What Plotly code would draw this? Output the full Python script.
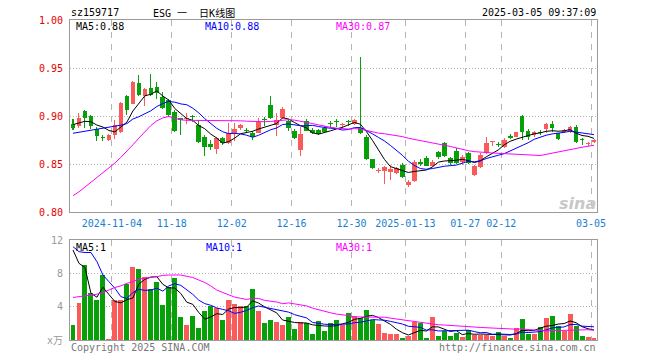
import plotly.graph_objects as go

# ---------------- data ----------------
dates = [
    "2024-10-24", "2024-10-25", "2024-10-28", "2024-10-29", "2024-10-30", "2024-10-31", "2024-11-01",
    "2024-11-04", "2024-11-05", "2024-11-06", "2024-11-07", "2024-11-08",
    "2024-11-11", "2024-11-12", "2024-11-13", "2024-11-14", "2024-11-15",
    "2024-11-18", "2024-11-19", "2024-11-20", "2024-11-21", "2024-11-22",
    "2024-11-25", "2024-11-26", "2024-11-27", "2024-11-28", "2024-11-29",
    "2024-12-02", "2024-12-03", "2024-12-04", "2024-12-05", "2024-12-06",
    "2024-12-09", "2024-12-10", "2024-12-11", "2024-12-12", "2024-12-13",
    "2024-12-16", "2024-12-17", "2024-12-18", "2024-12-19", "2024-12-20",
    "2024-12-23", "2024-12-24", "2024-12-25", "2024-12-26", "2024-12-27",
    "2024-12-30", "2024-12-31", "2025-01-02", "2025-01-03",
    "2025-01-06", "2025-01-07", "2025-01-08", "2025-01-09", "2025-01-10",
    "2025-01-13", "2025-01-14", "2025-01-15", "2025-01-16", "2025-01-17",
    "2025-01-20", "2025-01-21", "2025-01-22", "2025-01-23", "2025-01-24",
    "2025-01-27", "2025-02-05", "2025-02-06", "2025-02-07",
    "2025-02-10", "2025-02-11", "2025-02-12", "2025-02-13", "2025-02-14",
    "2025-02-17", "2025-02-18", "2025-02-19", "2025-02-20", "2025-02-21",
    "2025-02-24", "2025-02-25", "2025-02-26", "2025-02-27", "2025-02-28",
    "2025-03-03", "2025-03-04", "2025-03-05",
]

opens = [
    0.892, 0.890, 0.905, 0.900, 0.886, 0.8775, 0.875, 0.880, 0.883, 0.921,
    0.913, 0.934, 0.921, 0.929, 0.930, 0.920, 0.9167, 0.904, 0.8975, 0.8965,
    0.900, 0.8906, 0.878, 0.871, 0.8655, 0.8775, 0.872, 0.8826, 0.887, 0.8848,
    0.8826, 0.8826, 0.896, 0.9115, 0.8906, 0.8976, 0.8951, 0.8844, 0.8646, 0.8951,
    0.8854, 0.885, 0.888, 0.8921, 0.8945, 0.8903, 0.8945, 0.8917, 0.888, 0.8785,
    0.8549, 0.843, 0.843, 0.842, 0.841, 0.849, 0.828, 0.8323, 0.8524, 0.8566,
    0.848, 0.862, 0.8722, 0.856, 0.864, 0.8524, 0.8618, 0.8385, 0.8472, 0.861,
    0.8728, 0.8702, 0.868, 0.878, 0.8785, 0.900, 0.8847, 0.880, 0.8828, 0.886,
    0.8917, 0.882, 0.8837, 0.8847, 0.8885, 0.8752, 0.8713, 0.8730,
]
highs = [
    0.897, 0.903, 0.906, 0.901, 0.889, 0.880, 0.881, 0.896, 0.915, 0.922,
    0.936, 0.943, 0.929, 0.944, 0.935, 0.925, 0.918, 0.906, 0.898, 0.903,
    0.901, 0.896, 0.880, 0.875, 0.878, 0.878, 0.893, 0.893, 0.892, 0.887,
    0.884, 0.8976, 0.8985, 0.9212, 0.9028, 0.909, 0.897, 0.886, 0.8889, 0.8965,
    0.887, 0.886, 0.890, 0.8943, 0.897, 0.893, 0.896, 0.8965, 0.9618, 0.880,
    0.855, 0.846, 0.848, 0.849, 0.847, 0.8507, 0.8333, 0.8542, 0.855, 0.8583,
    0.8542, 0.8639, 0.8733, 0.8576, 0.8663, 0.8594, 0.8625, 0.849, 0.8611, 0.8778,
    0.8733, 0.8726, 0.8767, 0.8809, 0.8837, 0.901, 0.8861, 0.8847, 0.885, 0.8924,
    0.8951, 0.8827, 0.8861, 0.8896, 0.8906, 0.8767, 0.8733, 0.8757,
]
lows = [
    0.885, 0.887, 0.888, 0.886, 0.874, 0.874, 0.874, 0.876, 0.882, 0.901,
    0.912, 0.921, 0.910, 0.921, 0.918, 0.907, 0.899, 0.883, 0.880, 0.892,
    0.894, 0.872, 0.858, 0.865, 0.860, 0.870, 0.871, 0.874, 0.885, 0.882,
    0.875, 0.882, 0.890, 0.897, 0.879, 0.897, 0.884, 0.876, 0.8583, 0.884,
    0.881, 0.880, 0.883, 0.887, 0.889, 0.888, 0.890, 0.891, 0.881, 0.8545,
    0.845, 0.8405, 0.8288, 0.833, 0.840, 0.8358, 0.8265, 0.8316, 0.848, 0.8476,
    0.847, 0.855, 0.857, 0.849, 0.850, 0.849, 0.850, 0.8375, 0.8462, 0.8604,
    0.8688, 0.8674, 0.867, 0.8757, 0.878, 0.875, 0.875, 0.8785, 0.880, 0.8827,
    0.8837, 0.875, 0.882, 0.882, 0.8722, 0.8698, 0.8688, 0.8715,
]
closes = [
    0.887, 0.898, 0.898, 0.890, 0.8795, 0.877, 0.880, 0.891, 0.914, 0.906,
    0.935, 0.922, 0.928, 0.922, 0.924, 0.908, 0.901, 0.884, 0.896, 0.8975,
    0.899, 0.8733, 0.868, 0.868, 0.877, 0.872, 0.882, 0.886, 0.8906, 0.884,
    0.8778, 0.894, 0.8955, 0.8976, 0.8958, 0.9076, 0.888, 0.8767, 0.8812, 0.8844,
    0.882, 0.881, 0.8837, 0.8917, 0.8941, 0.8906, 0.8941, 0.8958, 0.8826, 0.8555,
    0.8455, 0.8435, 0.8472, 0.8448, 0.8455, 0.8368, 0.8316, 0.8524, 0.8497, 0.8483,
    0.8524, 0.8569, 0.8583, 0.851, 0.851, 0.8569, 0.8507, 0.848, 0.8594, 0.8722,
    0.8735, 0.8698, 0.875, 0.8776, 0.8837, 0.8837, 0.8785, 0.8837, 0.8824, 0.8917,
    0.887, 0.876, 0.8854, 0.889, 0.8733, 0.8748, 0.8717, 0.8745,
]
volumes = [  # x万
    1.8, 4.48, 9.0, 5.6, 4.8, 7.8, 0.1, 4.8, 4.8, 6.7,
    8.8, 8.5, 7.6, 6.1, 7.0, 4.2, 6.4, 7.5, 2.8, 1.8,
    2.9, 1.5, 3.5, 4.1, 3.8, 2.4, 4.8, 4.36, 4.1, 4.1,
    6.1, 3.5, 2.1, 2.4, 2.2, 1.8, 2.8, 1.3, 2.2, 2.1,
    0.7, 2.3, 1.1, 2.1, 2.4, 1.8, 3.2, 2.9, 2.7, 3.6,
    2.4, 1.9, 0.8, 0.7, 0.7, 0.3, 0.5, 2.2, 2.1, 0.3,
    2.76, 0.5, 1.05, 0.5, 0.8, 0.4, 1.15, 0.58, 0.65, 0.66,
    0.5, 1.0, 0.52, 0.3, 1.45, 2.55, 0.75, 0.75, 1.6, 2.65,
    2.9, 1.65, 1.05, 3.15, 1.65, 0.5, 0.4, 0.3,
]

# moving-average values before enough visible history exists
ma5_head = [0.891, 0.893, 0.8945, 0.894]
ma10_head = [0.882, 0.883, 0.884, 0.885, 0.886, 0.887, 0.888, 0.889, 0.8905]
ma30_head = [0.817, 0.821, 0.826, 0.831, 0.836, 0.841, 0.846, 0.851, 0.857, 0.863,
             0.870, 0.877, 0.884, 0.890, 0.895, 0.898, 0.8995, 0.898, 0.896, 0.8955,
             0.8955, 0.8955, 0.8955, 0.8955, 0.8955, 0.8955, 0.895, 0.895, 0.895]
vma5_head = [10.8, 9.2, 8.7, 5.6]
vma10_head = [11.2, 10.6, 10.5, 10.5, 9.4, 7.8, 7.0, 6.2, 5.2]
vma30_head = [5.1, 5.2, 5.3, 5.4, 5.5, 5.7, 6.0, 6.3, 6.5, 6.8,
              7.0, 7.3, 7.4, 7.55, 7.6, 7.75, 7.8, 7.8, 7.8, 7.65,
              7.5, 7.2, 6.9, 6.5, 6.0, 5.7, 5.4, 5.15, 5.0]

tick_dates = ["2024-11-04", "2024-11-18", "2024-12-02", "2024-12-16", "2024-12-30",
              "2025-01-13", "2025-01-27", "2025-02-12", "2025-03-05"]
tick_text = ["2024-11-04", "11-18", "12-02", "12-16", "12-30",
             "2025-01-13", "01-27", "02-12", "03-05"]
price_ticks = [0.80, 0.85, 0.90, 0.95, 1.00]
price_tick_text = ["0.80", "0.85", "0.90", "0.95", "1.00"]
vol_ticks = [0, 4, 8, 12]
vol_tick_text = ["x万", "4", "8", "12"]


def moving_avg(vals, n, head):
    out = []
    for i in range(len(vals)):
        if i < n - 1:
            out.append(head[i])
        else:
            out.append(sum(vals[i - n + 1:i + 1]) / n)
    return out


# ---------------- styling ----------------
RED = "#fa5a5a"
GREEN = "#08a008"
FONT = "DejaVu Sans Mono, Noto Sans CJK SC, monospace"
GRID = "#b4b4b4"
FRAME = "#9a9a9a"

n = len(dates)
xs = list(range(n))
up = [c >= o for o, c in zip(opens, closes)]
colors = [RED if u else GREEN for u in up]
body_base = [min(o, c) for o, c in zip(opens, closes)]
body_h = [max(abs(c - o), 0.0011) for o, c in zip(opens, closes)]
wick_h = [h - l for h, l in zip(highs, lows)]

fig = go.Figure()

# wicks
fig.add_trace(go.Bar(x=xs, y=wick_h, base=lows, width=0.17,
                     marker=dict(color=colors, line=dict(width=0)),
                     xaxis="x", yaxis="y", hoverinfo="skip"))
# bodies
fig.add_trace(go.Bar(x=xs, y=body_h, base=body_base, width=0.78,
                     marker=dict(color=colors, line=dict(width=0)),
                     xaxis="x", yaxis="y", hoverinfo="skip"))

ma_specs = [(5, ma5_head, "black"), (10, ma10_head, "#0000ff"), (30, ma30_head, "#ff00ff")]
for win, head, col in ma_specs:
    fig.add_trace(go.Scatter(x=xs, y=moving_avg(closes, win, head), mode="lines",
                             line=dict(color=col, width=1), xaxis="x", yaxis="y",
                             hoverinfo="skip"))

# volume
fig.add_trace(go.Bar(x=xs, y=volumes, width=0.83,
                     marker=dict(color=colors, line=dict(width=0)),
                     xaxis="x2", yaxis="y2", hoverinfo="skip"))
vma_specs = [(5, vma5_head, "black"), (10, vma10_head, "#0000ff"), (30, vma30_head, "#ff00ff")]
for win, head, col in vma_specs:
    fig.add_trace(go.Scatter(x=xs, y=moving_avg(volumes, win, head), mode="lines",
                             line=dict(color=col, width=1), xaxis="x2", yaxis="y2",
                             hoverinfo="skip"))

tickvals = [dates.index(d) - 0.5 for d in tick_dates]

# page body has an 8px default margin: work in window pixels and shift
OFF = 8
WIN_W, WIN_H = 660, 360
W, H = WIN_W - OFF, WIN_H - OFF
L, R, T, B = 70, 597, 20, 340          # plot frame in window pixels


def px(X):
    return (X - L) / (R - L)


def py(Y):
    return (B - Y) / (B - T)


main_dom = [py(212), 1.0]
vol_dom = [0.0, py(240)]

axis_common = dict(showline=True, mirror=True, linecolor=FRAME, linewidth=1,
                   zeroline=False, ticks="", fixedrange=True, automargin=False)

fig.update_layout(
    width=W, height=H,
    margin=dict(l=L - OFF, r=WIN_W - R, t=T - OFF, b=WIN_H - B, pad=0, autoexpand=False),
    paper_bgcolor="white", plot_bgcolor="white",
    showlegend=False, barmode="overlay", bargap=0,
    font=dict(family=FONT, size=10, color="black"),
    hovermode=False,
    xaxis=dict(domain=[0, 1], range=[-0.5, n - 0.5], anchor="y",
               tickmode="array", tickvals=tickvals, ticktext=tick_text,
               tickfont=dict(color="#1a7fd2", size=10, family=FONT),
               showgrid=True, gridcolor=GRID, griddash="6px,6px", gridwidth=1,
               ticklabelstandoff=2, **axis_common),
    xaxis2=dict(domain=[0, 1], range=[-0.5, n - 0.5], anchor="y2", matches="x",
                tickmode="array", tickvals=tickvals, showticklabels=False,
                showgrid=True, gridcolor=GRID, griddash="6px,6px", gridwidth=1,
                **axis_common),
    yaxis=dict(domain=main_dom, range=[0.80, 1.00], anchor="x",
               tickmode="array", tickvals=price_ticks, ticktext=price_tick_text,
               tickfont=dict(color="#e60000", size=10, family=FONT),
               showgrid=True, gridcolor=GRID, griddash="1px,2px", gridwidth=1,
               ticklabelstandoff=4, **axis_common),
    yaxis2=dict(domain=vol_dom, range=[0, 12], anchor="x2",
                tickmode="array", tickvals=vol_ticks, ticktext=vol_tick_text,
                tickfont=dict(color="#999999", size=10, family=FONT),
                showgrid=True, gridcolor=GRID, griddash="1px,2px", gridwidth=1,
                ticklabelstandoff=4, **axis_common),
)


def label(text, X, Y, color="black", xanchor="left", size=10, family=FONT):
    fig.add_annotation(text=text, x=px(X), y=py(Y), xref="paper", yref="paper",
                       xanchor=xanchor, yanchor="middle", showarrow=False,
                       font=dict(color=color, size=size, family=family))


label("sz159717", 69, 13)
label("ESG 一  日K线图", 151, 13)
label("2025-03-05 09:37:09", 598, 13, xanchor="right")

label("MA5:0.88", 74, 26)
label("MA10:0.88", 203, 26, color="#0000ff")
label("MA30:0.87", 334, 26, color="#ff00ff")

label("MA5:1", 74, 247)
label("MA10:1", 204, 247, color="#0000ff")
label("MA30:1", 334, 247, color="#ff00ff")

label("Copyright 2025 SINA.COM", 69, 347, color="#777777")
label("http://finance.sina.com.cn", 598, 347, color="#777777", xanchor="right")

label("<b><i>sina</i></b>", 598, 203, color="#c8c8c8", xanchor="right", size=16,
      family="DejaVu Sans")

fig.write_html("out.html", config={"displayModeBar": False, "staticPlot": True})
